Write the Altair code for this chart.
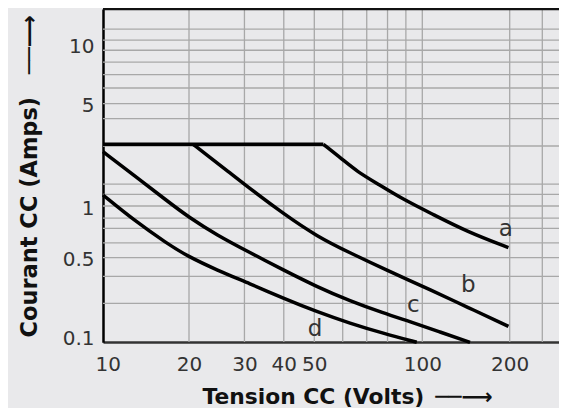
import altair as alt
import pandas as pd

# Piecewise log scales (knots)
X_KNOTS = [10, 20, 50, 100, 200, 300, 370]
X_RANGE = [0, 86, 211.3, 319.3, 406.7, 439.3, 456]
Y_KNOTS = [0.1, 0.5, 1, 5, 10, 20]
Y_RANGE = [333.3, 248.7, 197, 94.7, 35, 0]

X_TICKS = [10, 20, 30, 40, 50, 100, 200]
Y_TICKS = [0.1, 0.5, 1, 5, 10]
X_GRID = [20, 30, 40, 50, 60, 70, 80, 90, 100, 200, 300]
Y_GRID = [0.21, 0.35, 0.5, 0.61, 0.74, 0.85, 1, 1.2, 1.41, 2.57, 3.95,
          5, 6, 7, 8.1, 9.3, 10.8, 13.4]
Y_TOP = [20]

# Curves: voltage (V) and current (A)
FLAT_V = [10, 53]
FLAT_I = [2.64, 2.64]
A_V = [53, 60.2, 65.8, 74.8, 88.5, 109.1, 142.2, 198]
A_I = [2.64, 2.06, 1.721, 1.425, 1.108, 0.892, 0.710, 0.572]
B_V = [20.6, 23.3, 26.4, 31.2, 39.8, 50.9, 62.9, 77.7, 108.9, 142.5, 198]
B_I = [2.64, 2.151, 1.748, 1.317, 0.904, 0.664, 0.533, 0.407, 0.2654, 0.1957, 0.1356]
C_V = [10, 12.8, 16.7, 19.9, 24.5, 31.2, 39.9, 50.8, 62.9, 77.8, 92.4, 115.1, 146]
C_I = [2.35, 1.629, 1.090, 0.863, 0.678, 0.536, 0.396, 0.288, 0.2194, 0.1746,
       0.148, 0.1217, 0.1]
D_V = [10, 12.8, 16.7, 19.9, 24.5, 31.2, 39.9, 50.8, 62.9, 77.8, 96.5]
D_I = [1.189, 0.829, 0.607, 0.507, 0.396, 0.305, 0.231, 0.179, 0.1435, 0.1187, 0.1]

LABELS = ["a", "b", "c", "d"]
LABEL_V = [194, 144, 94.4, 50.2]
LABEL_I = [0.732, 0.297, 0.203, 0.128]

series = []
for name, vs, is_ in [("flat", FLAT_V, FLAT_I), ("a", A_V, A_I), ("b", B_V, B_I),
                      ("c", C_V, C_I), ("d", D_V, D_I)]:
    for k, (v, i) in enumerate(zip(vs, is_)):
        series.append({"s": name, "o": k, "V": v, "I": i})
curves = pd.DataFrame(series)
labels = pd.DataFrame({"t": LABELS, "V": LABEL_V, "I": LABEL_I})

xs = alt.Scale(type="log", domain=X_KNOTS, range=X_RANGE, nice=False)
ys = alt.Scale(type="log", domain=Y_KNOTS, range=Y_RANGE, nice=False)

LABEL_FONT = "DejaVu Sans"
ARROW = "\u2500\u2500\u27F6"
x_axis = alt.Axis(values=X_TICKS, format="~g", title="Tension CC (Volts)\u2002" + ARROW,
                  grid=False, ticks=False, tickSize=0, domainColor="#333333",
                  domainWidth=2.5, labelFont=LABEL_FONT, labelFontSize=20,
                  labelColor="#333333", labelPadding=12, labelFlush=True,
                  labelFlushOffset=8, titleFont=LABEL_FONT, titleFontSize=21.8,
                  titleFontWeight="bold", titleColor="#111111", titlePadding=12,
                  titleX=99, titleAlign="left")
y_axis = alt.Axis(values=Y_TICKS, format="~g", title="Courant CC (Amps)\u2003" + ARROW,
                  grid=False, ticks=False, tickSize=0, domainColor="#000000",
                  domainWidth=2.5, labelFont=LABEL_FONT, labelFontSize=20,
                  labelColor="#333333", labelPadding=9, labelFlush=True,
                  labelFlushOffset=4, labelOffset=2, titleFont=LABEL_FONT,
                  titleFontSize=22.5, titleFontWeight="bold", titleColor="#111111",
                  titlePadding=21, titleY=328, titleAlign="left")

X = lambda f: alt.X(f, type="quantitative", scale=xs, axis=x_axis)
Y = lambda f: alt.Y(f, type="quantitative", scale=ys, axis=y_axis)

grid_x = alt.Chart(pd.DataFrame({"V": X_GRID})).mark_rule(
    color="#a8a8a8", strokeWidth=1.3).encode(x=X("V"))
grid_y = alt.Chart(pd.DataFrame({"I": Y_GRID})).mark_rule(
    color="#a8a8a8", strokeWidth=1.3).encode(y=Y("I"))
top = alt.Chart(pd.DataFrame({"I": Y_TOP})).mark_rule(
    color="#111111", strokeWidth=2.5).encode(y=Y("I"))
lines = alt.Chart(curves).mark_line(
    color="black", strokeWidth=3.5, interpolate="basis", strokeCap="butt"
).encode(x=X("V"), y=Y("I"), detail="s:N", order="o:Q")
texts = alt.Chart(labels).mark_text(
    font=LABEL_FONT, fontSize=23, color="#333333"
).encode(x=X("V"), y=Y("I"), text="t:N")

chart = alt.layer(grid_x, grid_y, top, lines, texts).properties(
    width=456, height=333,
    autosize=alt.AutoSizeParams(type="none"),
    padding={"left": 95, "top": 1, "right": 0, "bottom": 66},
).configure(background="#e9e9eb").configure_view(stroke="transparent")

chart.save("out.html", embed_options={"renderer": "svg", "actions": False})
